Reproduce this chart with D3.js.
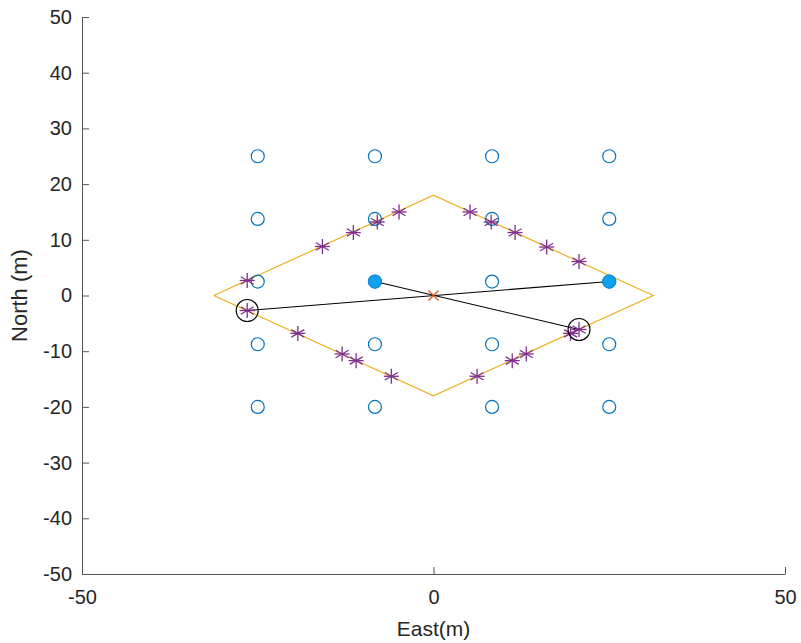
<!DOCTYPE html>
<html>
<head>
<meta charset="utf-8">
<script src="https://cdn.jsdelivr.net/npm/d3@7"></script>
<style>
  body { margin: 0; background: #fff; }
  text { font-family: "Liberation Sans", Arial, sans-serif; fill: #262626; }
</style>
</head>
<body>
<svg id="chart" width="801" height="643"></svg>
<script>
// grid of receivers (open circles)
var gridX = [-25, -8.33, 8.33, 25];
var gridY = [25, 13.75, 2.5, -8.75, -20];
// sources (filled circles)
var srcX = [-8.33, 25];
var srcY = [2.5, 2.5];
// diamond outline
var diamondX = [-31.25, 0, 31.25, 0, -31.25];
var diamondY = [0, 18, 0, -18, 0];
// reflection points on the diamond (stars)
var starX = [-26.5, -15.8, -11.4, -8.0, -4.9, 5.2, 8.2, 11.6, 16.1, 20.7,
             -26.5, -19.3, -13.0, -11.0, -6.0, 6.2, 11.2, 13.2, 19.5, 20.7];
var starY = [2.7, 8.8, 11.3, 13.2, 15.0, 15.0, 13.2, 11.3, 8.7, 6.1,
             -2.7, -6.8, -10.5, -11.7, -14.5, -14.5, -11.7, -10.5, -6.8, -6.1];
// circled hits
var hitX = [-26.5, 20.7];
var hitY = [-2.7, -6.1];
// rays: from source through origin to hit
var rayX1 = [-8.33, 25];
var rayY1 = [2.5, 2.5];
var rayX2 = [20.7, -26.5];
var rayY2 = [-6.1, -2.7];
var xTicks = [-50, 0, 50];
var yTicks = [-50, -40, -30, -20, -10, 0, 10, 20, 30, 40, 50];

var svg = d3.select("#chart");
var margin = {top: 17, right: 16, bottom: 69, left: 82},
    width = 801 - margin.left - margin.right,
    height = 643 - margin.top - margin.bottom;

var g = svg.append("g")
    .attr("transform", "translate(" + margin.left + "," + margin.top + ")");

var x = d3.scaleLinear().domain([-50, 50]).range([0, width]);
var y = d3.scaleLinear().domain([-50, 50]).range([height, 0]);
var fmt = function(d) { return String(d); };

// axes
var xAxis = g.append("g")
    .attr("transform", "translate(0," + height + ")")
    .call(d3.axisBottom(x).tickValues(xTicks).tickFormat(fmt).tickSizeInner(-7).tickSizeOuter(0).tickPadding(16));
var yAxis = g.append("g")
    .call(d3.axisLeft(y).tickValues(yTicks).tickFormat(fmt).tickSizeInner(-7).tickSizeOuter(0).tickPadding(10));
[xAxis, yAxis].forEach(function(a) {
  a.select(".domain").attr("stroke", "#555");
  a.selectAll(".tick line").attr("stroke", "#555");
  a.selectAll(".tick text").style("font-size", "20px").attr("fill", "#262626")
    .style("font-family", "'Liberation Sans', Arial, sans-serif");
});

g.append("text")
    .attr("x", width / 2).attr("y", height + 62)
    .attr("text-anchor", "middle")
    .style("font-size", "21px")
    .text("East(m)");
g.append("text")
    .attr("transform", "translate(-55," + (height / 2) + ") rotate(-90)")
    .attr("text-anchor", "middle")
    .style("font-size", "22px")
    .text("North (m)");

// diamond
var line = d3.line().x(function(d) { return x(d[0]); }).y(function(d) { return y(d[1]); });
g.append("path")
    .datum(diamondX.map(function(v, i) { return [v, diamondY[i]]; }))
    .attr("d", line)
    .attr("fill", "none")
    .attr("stroke", "#EDB120")
    .attr("stroke-width", 1.2);

// open grid circles
var grid = [];
gridX.forEach(function(gx) { gridY.forEach(function(gy) { grid.push([gx, gy]); }); });
g.selectAll(".rx").data(grid).enter().append("circle")
    .attr("class", "rx")
    .attr("cx", function(d) { return x(d[0]); })
    .attr("cy", function(d) { return y(d[1]); })
    .attr("r", 6.5)
    .attr("fill", "none")
    .attr("stroke", "#0072BD")
    .attr("stroke-width", 1.2);

// rays
g.selectAll(".ray").data(rayX1).enter().append("line")
    .attr("class", "ray")
    .attr("x1", function(d) { return x(d); })
    .attr("y1", function(d, i) { return y(rayY1[i]); })
    .attr("x2", function(d, i) { return x(rayX2[i]); })
    .attr("y2", function(d, i) { return y(rayY2[i]); })
    .attr("stroke", "#000")
    .attr("stroke-width", 1.1);

// filled source circles
g.selectAll(".src").data(srcX).enter().append("circle")
    .attr("class", "src")
    .attr("cx", function(d) { return x(d); })
    .attr("cy", function(d, i) { return y(srcY[i]); })
    .attr("r", 6.5)
    .attr("fill", "#12A0EC")
    .attr("stroke", "#0C8FD8")
    .attr("stroke-width", 1);

// stars
var star = g.selectAll(".star").data(starX).enter().append("g")
    .attr("class", "star")
    .attr("transform", function(d, i) { return "translate(" + x(d) + "," + y(starY[i]) + ")"; });
[0, 60, 120, 90].forEach(function(a) {
  var r = 7.5;
  var dx = r * Math.sin(a * Math.PI / 180), dy = r * Math.cos(a * Math.PI / 180);
  if (a === 90) { dx = r; dy = 0; }
  star.append("line")
      .attr("x1", -dx).attr("y1", -dy).attr("x2", dx).attr("y2", dy)
      .attr("stroke", "#7E2F8E")
      .attr("stroke-width", 1.3);
});

// circled hits
g.selectAll(".hit").data(hitX).enter().append("circle")
    .attr("class", "hit")
    .attr("cx", function(d) { return x(d); })
    .attr("cy", function(d, i) { return y(hitY[i]); })
    .attr("r", 11)
    .attr("fill", "none")
    .attr("stroke", "#000")
    .attr("stroke-width", 1.1);

// origin cross
var ox = g.append("g").attr("transform", "translate(" + x(0) + "," + y(0) + ")");
[[-5, -5, 5, 5], [-5, 5, 5, -5]].forEach(function(c) {
  ox.append("line")
      .attr("x1", c[0]).attr("y1", c[1]).attr("x2", c[2]).attr("y2", c[3])
      .attr("stroke", "#D95319")
      .attr("stroke-width", 1.3);
});
</script>
</body>
</html>
